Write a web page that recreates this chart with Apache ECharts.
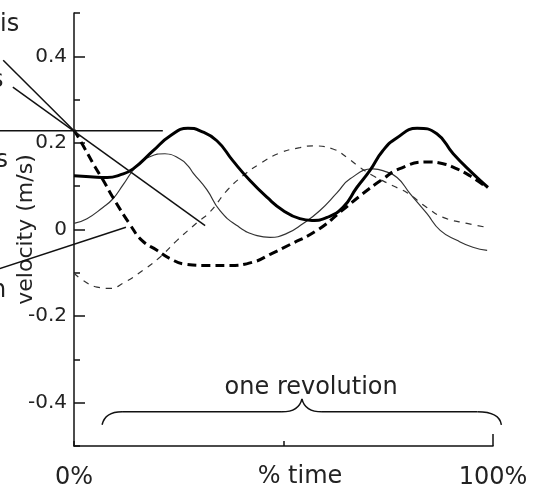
<!DOCTYPE html>
<html><head><meta charset="utf-8">
<script src="https://cdn.jsdelivr.net/npm/echarts@6/dist/echarts.min.js"></script>
<style>html,body{margin:0;padding:0;background:#fff}#c{width:541px;height:492px}</style>
</head><body><div id="c"></div>
<script>
// ---- data (x: % of one revolution, y: velocity m/s) ----
const thickSolidX  = [0, 3.8, 7.9, 11.0, 14.1, 18.9, 22.9, 27.2, 30.1, 34.1, 37.9, 42.0, 46.1, 49.9, 53.9, 56.8, 60.4, 64.2, 67.5, 70.6, 73.7, 77.1, 81.9, 86.6, 90.5, 95.2, 98.8];
const thickSolidY  = [0.124, 0.122, 0.120, 0.126, 0.140, 0.182, 0.216, 0.234, 0.228, 0.205, 0.159, 0.113, 0.074, 0.044, 0.025, 0.021, 0.028, 0.051, 0.097, 0.136, 0.182, 0.212, 0.234, 0.221, 0.175, 0.129, 0.097];
const thickDashedX = [0, 2.1, 5.0, 6.9, 9.3, 13.4, 16.2, 19.8, 22.9, 26.5, 31.7, 36.8, 42.5, 47.3, 51.1, 58.0, 64.0, 68.7, 73.5, 77.6, 84.2, 88.1, 91.4, 94.5, 98.6];
const thickDashedY = [0.230, 0.195, 0.145, 0.115, 0.074, 0.011, -0.025, -0.048, -0.067, -0.080, -0.083, -0.083, -0.076, -0.055, -0.037, -0.002, 0.044, 0.081, 0.115, 0.140, 0.156, 0.152, 0.140, 0.124, 0.097];
const thinSolidX   = [0, 3.1, 6.9, 9.3, 11.7, 15.0, 18.1, 21.7, 25.3, 27.2, 28.4, 31.7, 34.8, 38.9, 43.7, 46.8, 50.8, 54.7, 58.7, 62.8, 65.9, 71.4, 73.7, 77.1, 80.2, 84.2, 87.4, 91.4, 95.2, 98.6];
const thinSolidY   = [0.014, 0.025, 0.051, 0.071, 0.103, 0.147, 0.168, 0.175, 0.163, 0.147, 0.131, 0.092, 0.044, 0.009, -0.014, -0.018, -0.009, 0.014, 0.044, 0.085, 0.117, 0.140, 0.136, 0.120, 0.083, 0.037, -0.002, -0.025, -0.041, -0.048];
const thinDashedX  = [0, 2.1, 5.5, 8.6, 11.7, 16.5, 20.5, 24.6, 29.4, 32.5, 36.5, 40.3, 44.4, 49.2, 53.9, 57.0, 61.8, 65.2, 68.3, 71.4, 76.1, 79.5, 84.2, 88.1, 93.8, 98.6];
const thinDashedY  = [-0.101, -0.117, -0.133, -0.136, -0.124, -0.094, -0.064, -0.025, 0.016, 0.041, 0.090, 0.124, 0.152, 0.177, 0.189, 0.193, 0.186, 0.166, 0.143, 0.124, 0.101, 0.085, 0.051, 0.028, 0.014, 0.005];
const yMajorTicks = [-0.4, -0.2, 0, 0.2, 0.4];
const xLabelTicks = [0, 100];
const xLabels     = ['0%', '100%'];
// annotation anchors (data space)
const convergePt  = [0, 0.228];
const pointerLines = [
  [[-17.7, 0.228], [21.2, 0.228]],
  [[-16.9, 0.391], convergePt],
  [[-14.6, 0.329], [31.3, 0.009]],
  [[-17.7, -0.090], [12.4, 0.005]]
];
const braceY = { end: -0.451, flat: -0.421, cusp: -0.391 };
const braceX = { left: 6.7, cusp: 54.4, right: 102.0 };
const braceLabelPos = [56.6, -0.365];

const FONT = 'DejaVu Sans';
const TXT = '#222';
const pair = (xs, ys) => xs.map((x, i) => [x, ys[i]]);

const chart = echarts.init(document.getElementById('c'), null, { renderer: 'canvas' });
chart.setOption({
  animation: false,
  backgroundColor: '#fff',
  textStyle: { fontFamily: FONT, color: TXT },
  grid: { left: 74, right: 48, top: 13, bottom: 46, containLabel: false, outerBoundsMode: 'none' },
  xAxis: [
    {
      type: 'value', min: 0, max: 100, interval: 50, position: 'bottom',
      axisLine: { show: true, onZero: false, lineStyle: { color: '#111', width: 1.5 } },
      axisTick: { show: true, inside: true, length: 5, lineStyle: { color: '#111', width: 1.5 } },
      axisLabel: { show: false },
      splitLine: { show: false },
      name: '% time', nameLocation: 'middle', nameGap: 19, nameMoveOverlap: false,
      nameTextStyle: { fontFamily: FONT, fontSize: 24, color: TXT, padding: [0, 0, 0, 33], verticalAlign: 'top' }
    },
    {
      type: 'value', min: 0, max: 100, position: 'bottom',
      axisLine: { show: false, onZero: false },
      axisTick: { show: true, inside: true, length: 12, customValues: [100], lineStyle: { color: '#111', width: 1.5 } },
      axisLabel: {
        show: true, customValues: xLabelTicks, margin: 20, fontSize: 24, fontFamily: FONT, color: TXT,
        formatter: v => xLabels[xLabelTicks.indexOf(v)]
      },
      splitLine: { show: false }
    }
  ],
  yAxis: [
    {
      type: 'value', min: -0.5, max: 0.5, interval: 0.1, position: 'left',
      axisLine: { show: true, onZero: false, lineStyle: { color: '#111', width: 1.5 } },
      axisTick: { show: true, inside: true, length: 6, lineStyle: { color: '#111', width: 1.5 } },
      axisLabel: { show: false },
      splitLine: { show: false }
    },
    {
      type: 'value', min: -0.5, max: 0.5, position: 'left',
      axisLine: { show: false, onZero: false },
      axisTick: { show: true, inside: true, length: 11, customValues: yMajorTicks, lineStyle: { color: '#111', width: 1.5 } },
      axisLabel: {
        show: true, customValues: yMajorTicks, margin: 7, fontSize: 20, fontFamily: FONT, color: TXT,
        formatter: v => String(Math.round(v * 10) / 10)
      },
      splitLine: { show: false },
      name: 'velocity (m/s)', nameLocation: 'middle', nameGap: 37, nameRotate: 90, nameMoveOverlap: false,
      nameTextStyle: { fontFamily: FONT, fontSize: 22, color: TXT }
    }
  ],
  series: [
    { name: 'thin dashed', type: 'line', data: pair(thinDashedX, thinDashedY), smooth: 0.5, showSymbol: false,
      lineStyle: { color: '#333', width: 1.2, type: [6, 6] } },
    { name: 'thin solid', type: 'line', data: pair(thinSolidX, thinSolidY), smooth: 0.5, showSymbol: false,
      lineStyle: { color: '#333', width: 1.2 } },
    { name: 'thick dashed', type: 'line', data: pair(thickDashedX, thickDashedY), smooth: 0.5, showSymbol: false,
      lineStyle: { color: '#000', width: 3, type: [9, 5] } },
    { name: 'thick solid', type: 'line', data: pair(thickSolidX, thickSolidY), smooth: 0.5, showSymbol: false,
      lineStyle: { color: '#000', width: 3 } }
  ]
});

const px = p => chart.convertToPixel({ xAxisIndex: 0, yAxisIndex: 0 }, p);
const graphics = [];
const stroke = { stroke: '#111', lineWidth: 1.5, fill: null };
pointerLines.forEach(([a, b]) => {
  const pa = px(a), pb = px(b);
  graphics.push({ type: 'line', shape: { x1: pa[0], y1: pa[1], x2: pb[0], y2: pb[1] }, style: stroke, z: 10 });
});
// brace built from curves and straight segments
const L = px([braceX.left, braceY.end]), LF = px([braceX.left, braceY.flat]);
const C = px([braceX.cusp, braceY.cusp]), CF = px([braceX.cusp, braceY.flat]);
const R = px([braceX.right, braceY.end]), RF = px([braceX.right, braceY.flat]);
const fy = LF[1];
graphics.push(
  { type: 'bezierCurve', shape: { x1: L[0], y1: L[1], cpx1: L[0] + 3, cpy1: fy, x2: L[0] + 20, y2: fy }, style: stroke, z: 10 },
  { type: 'line', shape: { x1: L[0] + 20, y1: fy, x2: C[0] - 20, y2: fy }, style: stroke, z: 10 },
  { type: 'bezierCurve', shape: { x1: C[0] - 20, y1: fy, cpx1: C[0] - 3, cpy1: fy, x2: C[0], y2: C[1] }, style: stroke, z: 10 },
  { type: 'bezierCurve', shape: { x1: C[0], y1: C[1], cpx1: C[0] + 3, cpy1: fy, x2: C[0] + 20, y2: fy }, style: stroke, z: 10 },
  { type: 'line', shape: { x1: C[0] + 20, y1: fy, x2: R[0] - 24, y2: fy }, style: stroke, z: 10 },
  { type: 'bezierCurve', shape: { x1: R[0] - 24, y1: fy, cpx1: R[0] - 2, cpy1: fy, x2: R[0], y2: R[1] }, style: stroke, z: 10 }
);
const bl = px(braceLabelPos);
graphics.push({ type: 'text', x: bl[0], y: bl[1], style: { text: 'one revolution', font: `24px "${FONT}"`, fill: TXT, align: 'center', verticalAlign: 'middle' }, z: 10 });
// cropped annotation text at the left edge
[['is', 0, 37], ['s', -9, 93], ['s', -4.5, 173], ['n', -9, 303]].forEach(([t, x, y]) => {
  graphics.push({ type: 'text', x, y, style: { text: t, font: `24px "${FONT}"`, fill: TXT, align: 'left', verticalAlign: 'bottom' }, z: 10 });
});
chart.setOption({ graphic: graphics });
</script>
</body></html>
